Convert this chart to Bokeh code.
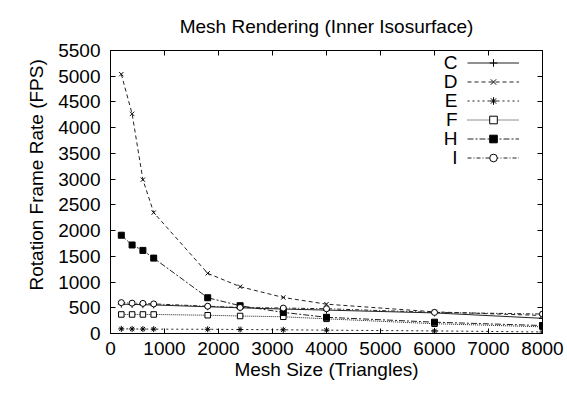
from bokeh.plotting import figure
from bokeh.models import LinearAxis, FixedTicker, Range1d, Legend, LegendItem, Label, Title
from bokeh.embed import file_html
from bokeh.resources import INLINE

mesh_size = [200, 400, 600, 800, 1800, 2400, 3200, 4000, 6000, 8000]
series_names = ["C", "D", "E", "F", "H", "I"]
fps_C = [570, 565, 560, 555, 520, 500, 475, 455, 400, 295]
fps_D = [5040, 4270, 2990, 2350, 1170, 910, 700, 570, 420, 350]
fps_E = [90, 88, 86, 85, 82, 78, 72, 65, 50, 30]
fps_F = [370, 370, 370, 370, 355, 340, 325, 285, 190, 130]
fps_H = [1910, 1720, 1615, 1465, 695, 540, 410, 315, 220, 155]
fps_I = [600, 590, 585, 575, 530, 506, 494, 481, 410, 378]
x_ticks = [0, 1000, 2000, 3000, 4000, 5000, 6000, 7000, 8000]
y_ticks = [0, 500, 1000, 1500, 2000, 2500, 3000, 3500, 4000, 4500, 5000, 5500]

FONT = "Liberation Sans"

p = figure(width=567, height=395, output_backend="svg", toolbar_location=None,
           x_range=Range1d(0, 8000), y_range=Range1d(0, 5500),
           min_border_left=110, min_border_right=25, min_border_top=47, min_border_bottom=62,
           title="Mesh Rendering (Inner Isosurface)")
p.title.text_font = FONT
p.title.text_font_size = "19px"
p.title.text_font_style = "normal"
p.title.align = "center"
p.title.text_color = "black"
p.title.standoff = 27

p.xgrid.visible = False
p.ygrid.visible = False
p.outline_line_color = "black"
p.outline_line_width = 1
p.background_fill_color = "white"
p.border_fill_color = "white"

p.xaxis.ticker = FixedTicker(ticks=x_ticks)
p.yaxis.ticker = FixedTicker(ticks=y_ticks)
for ax in (p.xaxis[0], p.yaxis[0]):
    ax.major_tick_in = 5
    ax.major_tick_out = 0
    ax.minor_tick_in = 0
    ax.minor_tick_out = 0
    ax.axis_line_color = "black"
    ax.major_tick_line_color = "black"
    ax.major_label_text_font = FONT
    ax.major_label_text_font_size = "19px"
    ax.major_label_text_color = "black"
    ax.axis_label_text_font = FONT
    ax.axis_label_text_font_size = "19px"
    ax.axis_label_text_font_style = "normal"
    ax.axis_label_text_color = "black"
p.xaxis.axis_label = "Mesh Size (Triangles)"
p.xaxis.major_label_standoff = 8
p.xaxis.axis_label_standoff = 1
p.yaxis.major_label_standoff = 10

# y-axis title, placed slightly above the frame centre as in the reference
y_title = Title(text="Rotation Frame Rate (FPS)", align="left", offset=43, standoff=18,
                text_font=FONT, text_font_size="19px", text_font_style="normal",
                text_color="black")
p.add_layout(y_title, "left")

for side, ticks in (("above", x_ticks), ("right", y_ticks)):
    ax = LinearAxis(ticker=FixedTicker(ticks=ticks))
    ax.major_tick_in = 5
    ax.major_tick_out = 0
    ax.minor_tick_in = 0
    ax.minor_tick_out = 0
    ax.major_label_text_color = None
    ax.major_label_text_font_size = "1px"
    ax.major_label_standoff = 0
    ax.axis_line_color = "black"
    p.add_layout(ax, side)

styles = [
    ("C", fps_C, "solid", "cross", None, 7),
    ("D", fps_D, "4 3", "x", None, 6),
    ("E", fps_E, "2 3", "asterisk", None, 6),
    ("F", fps_F, "1 1", "square", "white", 5.5),
    ("H", fps_H, "6 2 2 2", "square", "black", 6),
    ("I", fps_I, "4 2 1 2", "circle", "white", 6),
]

items = []
for name, ys, dash, marker, fill, sz in styles:
    r1 = p.line(mesh_size, ys, line_color="#222222", line_width=1, line_dash=dash)
    r2 = p.scatter(mesh_size, ys, marker=marker, size=sz, line_color="black",
                   fill_color=fill if fill else "black", line_width=1)
    items.append(LegendItem(label=" ", renderers=[r1, r2]))

legend = Legend(items=items, location=(357, 166), glyph_width=52, glyph_height=19,
                spacing=0, padding=0, margin=0, label_standoff=0, label_width=0,
                label_height=19, label_text_font_size="1px",
                border_line_color=None, background_fill_alpha=0)
p.add_layout(legend, "center")

for i, name in enumerate(series_names):
    p.add_layout(Label(x=347, y=271 - 19 * i, x_units="screen", y_units="screen",
                       text=name, text_align="right", text_baseline="middle",
                       text_font=FONT, text_font_size="19px", text_color="black"))

open("out.html", "w").write(file_html(p, INLINE))
